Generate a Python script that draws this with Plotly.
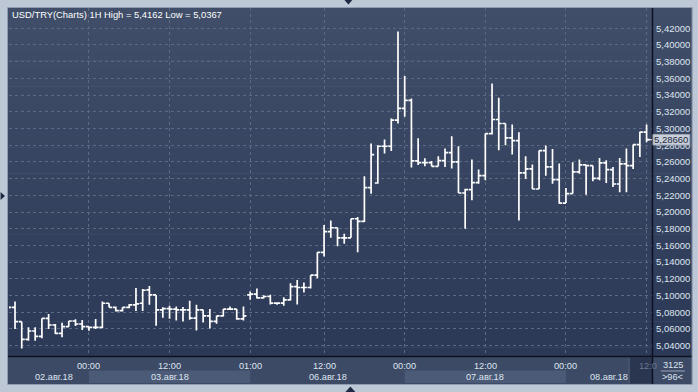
import plotly.graph_objects as go

# ---------------- data ----------------
opens = [5.0860, 5.0860, 5.0688, 5.0476, 5.0576, 5.0512, 5.0728, 5.0648, 5.0548, 5.0628,
         5.0696, 5.0660, 5.0628, 5.0620, 5.0620, 5.0908, 5.0860, 5.0820, 5.0860, 5.0888,
         5.0908, 5.1068, 5.1008, 5.0828, 5.0845, 5.0838, 5.0830, 5.0830, 5.0730, 5.0830,
         5.0758, 5.0691, 5.0758, 5.0838, 5.0838, 5.0722, 5.1009, 5.1017, 5.0973, 5.0989,
         5.0909, 5.0909, 5.0949, 5.1108, 5.1097, 5.1097, 5.1244, 5.1518, 5.1765, 5.1812,
         5.1692, 5.1692, 5.1920, 5.1888, 5.2292, 5.2348, 5.2788, 5.2788, 5.3100, 5.3240,
         5.3336, 5.2612, 5.2592, 5.2592, 5.2548, 5.2616, 5.2712, 5.2600, 5.2228, 5.2268,
         5.2352, 5.2436, 5.2940, 5.3108, 5.3060, 5.2888, 5.2856, 5.2468, 5.2516, 5.2276,
         5.2736, 5.2540, 5.2388, 5.2108, 5.2220, 5.2480, 5.2564, 5.2556, 5.2404, 5.2588,
         5.2508, 5.2336, 5.2576, 5.2556, 5.2808, 5.2956]
highs = [5.0880, 5.0928, 5.0688, 5.0620, 5.0620, 5.0728, 5.0780, 5.0660, 5.0676, 5.0696,
         5.0716, 5.0708, 5.0628, 5.0720, 5.0928, 5.0908, 5.0870, 5.0860, 5.0900, 5.1091,
         5.1080, 5.1116, 5.1008, 5.0860, 5.0878, 5.0870, 5.0862, 5.0937, 5.0890, 5.0830,
         5.0838, 5.0758, 5.0838, 5.0870, 5.0838, 5.0870, 5.1049, 5.1085, 5.1005, 5.1009,
         5.0917, 5.0981, 5.1148, 5.1188, 5.1156, 5.1244, 5.1518, 5.1845, 5.1900, 5.1812,
         5.1740, 5.1920, 5.1940, 5.2428, 5.2820, 5.2800, 5.2868, 5.3120, 5.4162, 5.3628,
         5.3360, 5.2884, 5.2644, 5.2612, 5.2668, 5.2760, 5.2908, 5.2788, 5.2280, 5.2628,
         5.2508, 5.2940, 5.3540, 5.3368, 5.3060, 5.3048, 5.2956, 5.2668, 5.2568, 5.2736,
         5.2796, 5.2756, 5.2580, 5.2288, 5.2596, 5.2628, 5.2564, 5.2556, 5.2648, 5.2620,
         5.2540, 5.2648, 5.2760, 5.2808, 5.2960, 5.3048]
lows = [5.0830, 5.0600, 5.0367, 5.0460, 5.0460, 5.0490, 5.0600, 5.0540, 5.0500, 5.0628,
        5.0636, 5.0588, 5.0580, 5.0600, 5.0610, 5.0860, 5.0810, 5.0810, 5.0848, 5.0815,
        5.0815, 5.0890, 5.0640, 5.0736, 5.0722, 5.0702, 5.0690, 5.0710, 5.0583, 5.0679,
        5.0607, 5.0663, 5.0750, 5.0830, 5.0710, 5.0702, 5.0949, 5.0965, 5.0965, 5.0894,
        5.0890, 5.0878, 5.0941, 5.0894, 5.1037, 5.1085, 5.1208, 5.1467, 5.1692, 5.1592,
        5.1620, 5.1692, 5.1520, 5.1880, 5.2220, 5.2340, 5.2700, 5.2732, 5.3060, 5.3140,
        5.2532, 5.2564, 5.2548, 5.2548, 5.2548, 5.2540, 5.2520, 5.2228, 5.1800, 5.2140,
        5.2340, 5.2380, 5.2928, 5.2740, 5.2800, 5.2688, 5.1900, 5.2396, 5.2276, 5.2276,
        5.2436, 5.2340, 5.2100, 5.2108, 5.2220, 5.2460, 5.2208, 5.2368, 5.2380, 5.2348,
        5.2300, 5.2236, 5.2236, 5.2516, 5.2660, 5.2836]
closes = [5.0860, 5.0688, 5.0476, 5.0576, 5.0512, 5.0728, 5.0648, 5.0548, 5.0628, 5.0696,
          5.0660, 5.0628, 5.0620, 5.0620, 5.0908, 5.0860, 5.0820, 5.0860, 5.0888, 5.0900,
          5.1064, 5.1008, 5.0828, 5.0845, 5.0838, 5.0830, 5.0830, 5.0730, 5.0830, 5.0758,
          5.0691, 5.0758, 5.0838, 5.0838, 5.0722, 5.0758, 5.1017, 5.0973, 5.0989, 5.0909,
          5.0909, 5.0949, 5.1108, 5.1097, 5.1097, 5.1244, 5.1518, 5.1765, 5.1812, 5.1692,
          5.1692, 5.1920, 5.1888, 5.2292, 5.2688, 5.2788, 5.2788, 5.3100, 5.3240, 5.3336,
          5.2612, 5.2592, 5.2592, 5.2548, 5.2616, 5.2712, 5.2600, 5.2228, 5.2268, 5.2352,
          5.2436, 5.2940, 5.3108, 5.3060, 5.2888, 5.2856, 5.2468, 5.2516, 5.2276, 5.2736,
          5.2540, 5.2388, 5.2108, 5.2220, 5.2480, 5.2564, 5.2556, 5.2404, 5.2588, 5.2508,
          5.2336, 5.2576, 5.2556, 5.2808, 5.2956, 5.2866]

price_ticks = [5.04, 5.06, 5.08, 5.10, 5.12, 5.14, 5.16, 5.18, 5.20, 5.22,
               5.24, 5.26, 5.28, 5.30, 5.32, 5.34, 5.36, 5.38, 5.40, 5.42]
time_tick_idx = [0, 12, 24, 36, 47, 59, 71, 83, 95]
time_tick_labels = ["12:00", "00:00", "12:00", "01:00", "12:00", "00:00", "12:00", "00:00", "12:00"]
date_labels = ["02.авг.18", "03.авг.18", "06.авг.18", "07.авг.18", "08.авг.18"]
day_start_idx = [0, 12, 36, 59, 83]
title_text = "USD/TRY(Charts) 1H High = 5,4162 Low = 5,0367"
info_top = "3125"
info_bottom = ">96<"

# ---------------- geometry ----------------
W, H = 698, 392
ML, MR, MT, MB = 9, 43, 8, 36
PW, PH = W - ML - MR, H - MT - MB


def xp(px):
    return (px - ML) / PW


def yp(py):
    return 1 - (py - MT) / PH


x_idx = list(range(len(opens)))
BAR = 6.75           # px per bar
X0 = 8.3             # px of bar 0
x_lo = (ML - X0) / BAR
x_hi = (W - MR - X0) / BAR
PXP = 835.3          # px per price unit
y_lo = 5.04 - (356 - 345.7) / PXP
y_hi = 5.04 + (345.7 - 8) / PXP

FONT = "Liberation Sans, Arial, sans-serif"
TXT = "#dfe5ef"

fig = go.Figure()
fig.add_trace(go.Ohlc(
    x=x_idx, open=opens, high=highs, low=lows, close=closes,
    increasing=dict(line=dict(color="white", width=1.7)),
    decreasing=dict(line=dict(color="white", width=1.7)),
    tickwidth=0.45, hoverinfo="skip", showlegend=False,
))

shapes = []
# dark panel gradient (plot + right axis)
n = 40
top_c = (64, 78, 105)
bot_c = (43, 57, 87)
for k in range(n):
    t = k / (n - 1)
    c = tuple(round(top_c[j] + (bot_c[j] - top_c[j]) * t) for j in range(3))
    y0 = 8 + (356 - 8) * k / n
    y1 = 8 + (356 - 8) * (k + 1) / n + 0.5
    shapes.append(dict(type="rect", xref="paper", yref="paper", layer="below",
                       x0=xp(8), x1=xp(695), y0=yp(y0), y1=yp(min(y1, 356)),
                       fillcolor="rgb(%d,%d,%d)" % c, line=dict(width=0)))
# time axis row
shapes.append(dict(type="rect", xref="paper", yref="paper", layer="below",
                   x0=xp(8), x1=xp(695), y0=yp(356), y1=yp(384),
                   fillcolor="#3c4a66", line=dict(width=0)))
# shaded alternate days (03 and 07)
for a, b in [(day_start_idx[1], day_start_idx[2]), (day_start_idx[3], day_start_idx[4])]:
    shapes.append(dict(type="rect", xref="x", yref="paper", layer="below",
                       x0=a, x1=b, y0=yp(383), y1=yp(370.5),
                       fillcolor="#4b5a76", line=dict(width=0)))
# future / cursor region
shapes.append(dict(type="rect", xref="paper", yref="paper", layer="above",
                   x0=xp(632), x1=xp(655), y0=yp(383.5), y1=yp(357.5),
                   fillcolor="#2a3550", line=dict(width=0)))
shapes.append(dict(type="line", xref="paper", yref="paper", layer="above",
                   x0=xp(632), x1=xp(632), y0=yp(357.5), y1=yp(383.5),
                   line=dict(color="#55627a", width=1)))
# black separators
shapes.append(dict(type="line", xref="paper", yref="paper", layer="above",
                   x0=xp(8), x1=xp(695), y0=yp(356.5), y1=yp(356.5),
                   line=dict(color="#0c1220", width=1.5)))
shapes.append(dict(type="line", xref="paper", yref="paper", layer="above",
                   x0=xp(655.5), x1=xp(655.5), y0=yp(8), y1=yp(384),
                   line=dict(color="#0c1220", width=1.5)))
# panel border
shapes.append(dict(type="rect", xref="paper", yref="paper", layer="above",
                   x0=xp(7.5), x1=xp(695.5), y0=yp(384.5), y1=yp(7.5),
                   line=dict(color="#8e9bb0", width=1)))
# info box divider
shapes.append(dict(type="line", xref="paper", yref="paper", layer="above",
                   x0=xp(664), x1=xp(688), y0=yp(371), y1=yp(371),
                   line=dict(color="#9aa6ba", width=1)))
# last price box
last = closes[-1]
shapes.append(dict(type="line", xref="x", yref="y", layer="above",
                   x0=x_idx[-1], x1=x_hi, y0=last, y1=last,
                   line=dict(color="white", width=1)))
shapes.append(dict(type="rect", xref="paper", yref="y", layer="above",
                   x0=xp(656), x1=xp(693), y0=last - 5.3 / PXP, y1=last + 5.3 / PXP,
                   fillcolor="#c8cfd9", line=dict(color="#9aa4b4", width=1)))
# little triangles in the frame
tri = "#1f2a42"
shapes.append(dict(type="path", xref="paper", yref="paper", layer="above",
                   path="M %f %f L %f %f L %f %f Z" % (xp(346), yp(0), xp(354), yp(0), xp(350), yp(4.5)),
                   fillcolor=tri, line=dict(width=0)))
shapes.append(dict(type="path", xref="paper", yref="paper", layer="above",
                   path="M %f %f L %f %f L %f %f Z" % (xp(0.5), yp(192), xp(0.5), yp(200), xp(5), yp(196)),
                   fillcolor=tri, line=dict(width=0)))
shapes.append(dict(type="path", xref="paper", yref="paper", layer="above",
                   path="M %f %f L %f %f L %f %f Z" % (xp(347), yp(392), xp(357), yp(392), xp(352), yp(386.5)),
                   fillcolor=tri, line=dict(width=0)))

annotations = []
annotations.append(dict(xref="paper", yref="paper", x=xp(10), y=yp(15), xanchor="left",
                        yanchor="middle", text=title_text, showarrow=False,
                        font=dict(family=FONT, size=9.4, color="white")))
# time labels
for i, (ix, lab) in enumerate(zip(time_tick_idx, time_tick_labels)):
    col = TXT
    txt = lab
    xa, xs = "center", 0
    if i == 0:
        txt, xa, xs = lab[-2:], "right", 11
    elif i == len(time_tick_idx) - 1:
        txt, xa, xs, col = lab[:4], "left", -10, "#6c7890"
    annotations.append(dict(xref="x", yref="paper", x=ix, y=yp(365.5), xanchor=xa, xshift=xs,
                            yanchor="middle", text=txt, showarrow=False,
                            font=dict(family=FONT, size=9.2, color=col)))
# date labels
date_pos = [6.8, 24.0, 47.6, 71.0, 89.4]
for pos, lab in zip(date_pos, date_labels):
    annotations.append(dict(xref="x", yref="paper", x=pos, y=yp(377), xanchor="center",
                            yanchor="middle", text=lab, showarrow=False,
                            font=dict(family=FONT, size=9.2, color=TXT)))
annotations.append(dict(xref="paper", yref="y", x=xp(674.5), y=last, xanchor="center",
                        yanchor="middle", text=f"{last:.5f}".replace(".", ","), showarrow=False,
                        font=dict(family=FONT, size=9.5, color="#1c2740")))
annotations.append(dict(xref="paper", yref="paper", x=xp(676), y=yp(364.5), xanchor="center",
                        yanchor="middle", text=info_top, showarrow=False,
                        font=dict(family=FONT, size=9.2, color=TXT)))
annotations.append(dict(xref="paper", yref="paper", x=xp(676), y=yp(377.5), xanchor="center",
                        yanchor="middle", text=info_bottom, showarrow=False,
                        font=dict(family=FONT, size=9.2, color=TXT)))

fig.update_layout(
    width=W, height=H,
    margin=dict(l=ML, r=MR, t=MT, b=MB, pad=0),
    paper_bgcolor="#bec7d5",
    plot_bgcolor="rgba(0,0,0,0)",
    separators=",.",
    showlegend=False,
    shapes=shapes,
    annotations=annotations,
    xaxis=dict(range=[x_lo, x_hi], tickmode="array", tickvals=time_tick_idx,
               showticklabels=False, ticks="", showgrid=True, gridcolor="#5a6a84",
               griddash="3px,3px", gridwidth=1, zeroline=False, showline=False,
               rangeslider=dict(visible=False), fixedrange=True),
    yaxis=dict(range=[y_lo, y_hi], side="right", tickmode="array", tickvals=price_ticks,
               tickformat=".5f", ticks="", ticklabelstandoff=3,
               tickfont=dict(family=FONT, size=9.5, color=TXT),
               showgrid=True, gridcolor="#5a6a84", griddash="3px,3px", gridwidth=1,
               zeroline=False, showline=False, fixedrange=True),
)

fig.write_html("out.html", config={"displayModeBar": False})
